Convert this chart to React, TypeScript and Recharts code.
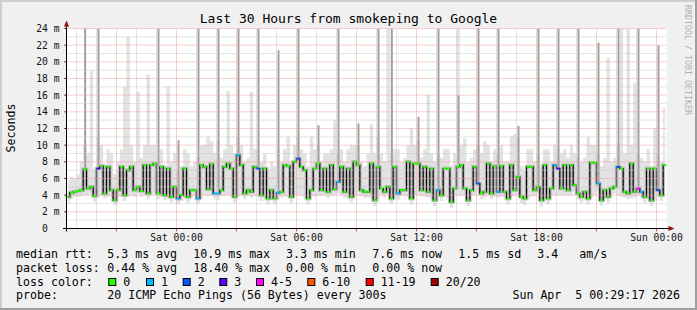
import React from 'react';
import { ComposedChart, Area, Bar, Line, XAxis, YAxis, ReferenceLine, CartesianGrid } from 'recharts';

// 10 minute slots, Fri 18:30 -> Sun 00:30, values in ms
const median = [
  3.8, 4.3, 4.4, 4.5, 4.6, 7.1, 4.8, 5.0, 3.9, 7.2,
  7.5, 4.2, 7.4, 4.6, 3.4, 4.6, 7.4, 4.0, 7.0, 7.4,
  4.6, 5.0, 4.5, 7.6, 4.2, 7.6, 7.8, 4.2, 7.4, 4.0,
  7.2, 3.8, 5.0, 3.6, 4.0, 7.2, 3.8, 4.6, 4.6, 3.6,
  7.6, 7.4, 4.7, 7.7, 4.2, 4.2, 4.6, 7.4, 7.8, 7.2,
  3.8, 8.8, 7.6, 4.2, 4.6, 4.4, 7.4, 7.2, 4.0, 7.2,
  3.6, 4.6, 3.6, 4.3, 4.4, 7.6, 7.5, 3.8, 8.0, 8.4,
  7.4, 7.0, 3.6, 4.6, 7.2, 7.8, 4.6, 7.2, 4.4, 7.6,
  4.7, 5.6, 7.4, 4.4, 7.2, 3.8, 8.0, 7.6, 4.6, 4.4,
  4.4, 7.8, 3.4, 7.4, 4.8, 4.4, 5.0, 3.6, 7.4, 4.2,
  4.6, 4.6, 8.0, 3.6, 7.8, 7.8, 4.6, 7.4, 4.4, 7.2,
  3.4, 4.6, 4.0, 7.2, 7.2, 3.2, 4.8, 7.4, 7.6, 4.8,
  3.4, 4.6, 7.4, 5.4, 4.2, 4.4, 7.8, 4.2, 7.5, 4.4,
  7.5, 4.4, 3.6, 7.6, 4.6, 6.2, 3.8, 3.6, 7.4, 7.4,
  4.6, 5.0, 3.4, 7.6, 3.6, 4.8, 7.6, 7.2, 4.8, 7.6,
  4.6, 7.6, 5.2, 4.2, 3.8, 4.4, 3.6, 7.9, 7.9, 5.4,
  3.4, 4.6, 3.8, 4.8, 5.0, 7.4, 7.2, 4.4, 4.2, 7.8,
  4.4, 4.8, 4.4, 3.8, 7.2, 3.4, 7.2, 4.6, 4.0, 7.6,
];

const smokeLow = [
  3.0, 3.6, 3.8, 3.8, 3.9, 4.0, 4.0, 4.2, 3.2, 3.8,
  4.0, 3.6, 3.8, 3.9, 2.8, 3.8, 3.8, 3.3, 3.8, 4.0,
  3.8, 4.2, 3.8, 4.0, 3.5, 4.0, 4.2, 3.5, 3.8, 3.4,
  3.6, 3.1, 4.2, 2.9, 3.3, 3.6, 3.1, 3.8, 3.9, 2.9,
  3.6, 4.0, 3.9, 4.0, 3.5, 3.4, 3.9, 4.0, 4.0, 3.8,
  3.1, 3.8, 4.0, 3.5, 3.9, 3.7, 3.9, 3.8, 3.3, 3.6,
  2.9, 3.8, 2.9, 3.5, 3.7, 3.8, 3.8, 3.1, 4.0, 4.0,
  4.0, 3.6, 2.9, 3.9, 3.8, 4.0, 3.9, 4.0, 3.7, 3.9,
  4.0, 4.2, 4.0, 3.7, 3.5, 3.1, 3.8, 4.0, 3.9, 3.7,
  3.7, 3.6, 2.7, 3.5, 4.0, 3.7, 4.2, 2.9, 3.6, 3.4,
  3.9, 3.9, 3.8, 2.9, 4.0, 4.0, 3.9, 3.8, 3.7, 3.5,
  2.7, 3.9, 3.3, 3.8, 3.5, 2.5, 4.0, 3.9, 4.0, 4.0,
  2.7, 3.9, 4.0, 4.5, 3.5, 3.7, 4.0, 3.5, 3.8, 3.7,
  3.8, 3.7, 2.9, 3.8, 3.9, 4.0, 3.0, 2.8, 3.5, 3.8,
  3.9, 4.2, 2.6, 3.5, 2.9, 4.0, 4.0, 4.0, 4.0, 4.0,
  3.9, 4.0, 4.4, 3.5, 3.1, 3.7, 2.9, 3.8, 4.0, 4.5,
  2.7, 3.9, 3.1, 4.0, 4.2, 4.0, 3.8, 3.7, 3.5, 3.6,
  3.7, 4.0, 3.7, 3.1, 3.5, 2.7, 3.4, 3.9, 3.3, 3.8,
];

const smokeHigh = [
  5.8, 6.2, 6.0, 6.5, 8.0, 10.0, 9.0, 19.0, 7.0, 11.0,
  10.0, 7.5, 9.5, 9.0, 6.5, 8.0, 9.5, 17.0, 23.0, 10.0,
  8.0, 16.4, 8.5, 10.0, 18.5, 10.0, 10.0, 8.0, 9.5, 7.5,
  17.0, 8.0, 9.0, 7.0, 7.5, 9.5, 9.0, 7.5, 8.0, 8.5,
  10.0, 10.0, 11.0, 10.5, 9.0, 10.5, 8.5, 9.5, 16.5, 10.0,
  9.0, 11.0, 10.0, 8.0, 8.5, 16.4, 9.5, 9.5, 8.0, 9.0,
  7.0, 8.0, 7.5, 9.5, 8.0, 9.5, 11.0, 8.0, 10.0, 11.0,
  9.5, 9.0, 7.5, 11.0, 9.5, 10.0, 8.0, 9.0, 9.0, 9.5,
  13.0, 9.0, 9.5, 8.0, 9.5, 10.0, 10.0, 10.0, 8.0, 7.5,
  9.0, 12.5, 9.0, 11.0, 9.0, 8.0, 24.0, 9.0, 9.5, 9.5,
  8.0, 8.5, 10.0, 12.0, 10.0, 10.5, 8.5, 9.5, 16.0, 9.0,
  8.0, 9.0, 8.5, 9.5, 9.5, 7.5, 9.0, 24.0, 10.0, 10.8,
  8.0, 8.5, 9.5, 10.0, 9.0, 10.5, 10.0, 8.0, 9.5, 9.0,
  10.0, 8.0, 8.0, 11.0, 11.3, 11.0, 7.5, 7.0, 9.5, 9.5,
  8.0, 9.0, 7.5, 9.5, 9.5, 8.0, 10.0, 9.5, 9.0, 9.5,
  8.5, 10.0, 9.0, 8.5, 8.0, 8.5, 11.0, 10.0, 10.0, 9.0,
  7.5, 8.5, 20.5, 8.0, 8.5, 10.0, 24.0, 9.0, 24.0, 10.0,
  17.5, 9.0, 8.5, 8.0, 9.5, 7.5, 12.0, 9.0, 8.0, 14.5,
];

// loss bucket per slot (index into lossLabels)
const lossBucket = [
  0, 0, 0, 0, 0, 0, 0, 0, 0, 3,
  0, 0, 0, 0, 0, 0, 0, 0, 0, 0,
  0, 0, 0, 0, 0, 0, 0, 0, 0, 0,
  0, 0, 0, 1, 0, 0, 0, 0, 0, 1,
  0, 0, 0, 0, 1, 1, 0, 0, 0, 0,
  0, 1, 0, 0, 0, 0, 0, 2, 0, 0,
  0, 0, 0, 1, 0, 0, 0, 0, 0, 2,
  0, 0, 0, 0, 0, 0, 0, 0, 0, 0,
  0, 1, 0, 0, 0, 0, 0, 0, 0, 0,
  0, 0, 0, 0, 0, 0, 0, 0, 0, 1,
  0, 0, 0, 0, 0, 0, 0, 0, 0, 0,
  0, 1, 0, 0, 0, 0, 0, 0, 0, 0,
  0, 0, 0, 2, 0, 0, 0, 0, 0, 1,
  0, 0, 0, 0, 0, 0, 0, 0, 0, 0,
  0, 0, 0, 0, 0, 0, 1, 3, 0, 0,
  0, 0, 0, 0, 0, 0, 0, 0, 0, 1,
  0, 0, 0, 0, 0, 2, 0, 0, 0, 0,
  0, 4, 1, 0, 0, 0, 0, 2, 0, 0,
];

const spikeSlots = [5, 9, 27, 33, 39, 45, 51, 57, 63, 69, 75, 81, 87, 93, 97, 105, 111, 117, 123, 129, 135, 141, 147, 153, 159, 165, 171, 177];
const spikeTops = [25, 25, 25, 10.6, 25, 25, 25, 25, 21.4, 25, 12.4, 25, 12.6, 25, 25, 13.4, 25, 16, 25, 25, 12.3, 25, 25, 25, 22.3, 25, 25, 22];

// x axis in hours since Fri 18:00
const xTicks = [6, 12, 18, 24, 30];
const xTickLabels = ['Sat 00:00', 'Sat 06:00', 'Sat 12:00', 'Sat 18:00', 'Sun 00:00'];
const yTicks = [0, 2, 4, 6, 8, 10, 12, 14, 16, 18, 20, 22, 24];
const hourLines = Array.from({ length: 30 }, (_, i) => i + 1);
const minorHours = hourLines.filter(h => h % 3 !== 0);
const majorHours = hourLines.filter(h => h % 3 === 0);
const minorY = [1, 3, 5, 7, 9, 11, 13, 15, 17, 19, 21, 23];
const majorY = [2, 4, 6, 8, 10, 12, 14, 16, 18, 20, 22, 24];

const lossLabels = ['0', '1', '2', '3', '4-5', '6-10', '11-19', '20/20'];
const lossColors = ['#26ff00', '#00b8ff', '#0059ff', '#5e00ff', '#ff00ff', '#ff5500', '#ff0000', '#a10000'];

const data = median.map((m, j) => {
  const s = spikeSlots.indexOf(j);
  return {
    t: 0.5 + (j + 0.5) / 6,
    median: m,
    smoke: [smokeLow[j], smokeHigh[j]],
    spike: s >= 0 ? [m, spikeTops[s]] : null,
    loss: lossBucket[j],
  };
});

const MONO = '"DejaVu Sans Mono", monospace';
const MINOR = '#cacaca';
const MAJOR = '#f29c9c';

const MedianDot = (props: any) => {
  const { cx, cy, payload, index } = props;
  if (cx == null || cy == null) return <g key={index} />;
  return <rect key={index} x={cx - 1.67} y={cy - 1} width={3.33} height={2} fill={lossColors[payload.loss]} />;
};

const legendText: Array<[number, number, string]> = [
  [16, 258.3, 'median rtt:'], [107.3, 258.3, '5.3 ms avg'], [193.3, 258.3, '10.9 ms max'],
  [286, 258.3, '3.3 ms min'], [372.3, 258.3, '7.6 ms now'], [458.3, 258.3, '1.5 ms sd'],
  [537.3, 258.3, '3.4'], [579.3, 258.3, 'am/s'],
  [16, 272, 'packet loss:'], [107.3, 272, '0.44 % avg'], [193.3, 272, '18.40 % max'],
  [286, 272, '0.00 % min'], [372.3, 272, '0.00 % now'],
  [16, 285.7, 'loss color:'],
  [16, 299.4, 'probe:'], [107.3, 299.4, '20 ICMP Echo Pings (56 Bytes) every 300s'],
];
const lossBoxX = [108.3, 146, 182.7, 219.3, 256, 307.3, 365.7, 430.7];

export default function App() {
  return (
    <div style={{ position: 'absolute', left: 0, top: 0, width: 697, height: 310, background: '#f0f0f0' }}>
      <ComposedChart
        width={697}
        height={310}
        data={data}
        margin={{ top: 28.5, right: 30.5, bottom: 61.5, left: 6.5 }}
        style={{ position: 'absolute', left: 0, top: 0 }}
      >
        <CartesianGrid horizontal={false} vertical={false} fill="#ffffff" />
        <XAxis
          dataKey="t"
          type="number"
          domain={[0.5, 30.5]}
          ticks={xTicks}
          interval={0}
          tickFormatter={(v: number) => xTickLabels[xTicks.indexOf(v)] ?? ''}
          axisLine={false}
          tickLine={false}
          tickSize={2}
          tickMargin={3.3}
          height={20}
          tick={{ fill: '#111', fontSize: 9.7, fontFamily: MONO }}
        />
        <YAxis
          type="number"
          domain={[0, 24]}
          ticks={yTicks}
          interval={0}
          allowDataOverflow
          width={60}
          axisLine={false}
          tickLine={{ stroke: '#000' }}
          tickSize={2}
          tickMargin={5}
          tickFormatter={(v: number) => (v === 0 ? '0\u00a0\u00a0' : `${v} m`)}
          tick={{ fill: '#111', fontSize: 9.7, fontFamily: MONO }}
        />
        <Area dataKey="smoke" type="step" fill="#e2e2e2" fillOpacity={1} stroke="none" dot={false} activeDot={false} isAnimationActive={false} />
        <Bar dataKey="spike" barSize={2} fill="#9f9f9f" isAnimationActive={false} />
        <Line dataKey="median" type="step" stroke="#bcbcbc" strokeWidth={3.5} dot={false} activeDot={false} isAnimationActive={false} />
        <Line dataKey="median" type="step" stroke="#000000" strokeWidth={1.2} dot={MedianDot} activeDot={false} isAnimationActive={false} />
        {minorY.map(v => (
          <ReferenceLine key={`my${v}`} y={v} stroke={MINOR} strokeDasharray="1 1" />
        ))}
        {minorHours.map(h => (
          <ReferenceLine key={`mx${h}`} x={h} stroke={MINOR} strokeDasharray="1 1" />
        ))}
        {majorY.map(v => (
          <ReferenceLine key={`My${v}`} y={v} stroke={MAJOR} strokeDasharray="1 1" />
        ))}
        {majorHours.map(h => (
          <ReferenceLine key={`Mx${h}`} x={h} stroke={MAJOR} strokeDasharray="1 1" />
        ))}
        {majorHours.map(h => (
          <ReferenceLine key={`tk${h}`} segment={[{ x: h, y: -0.35 }, { x: h, y: 0 }]} stroke="#e05050" ifOverflow="visible" />
        ))}
      </ComposedChart>
      <svg width={697} height={310} style={{ position: 'absolute', left: 0, top: 0, pointerEvents: 'none' }}>
        {/* frame */}
        <line x1={0} y1={1} x2={697} y2={1} stroke="#cfcfcf" strokeWidth={2} />
        <line x1={1} y1={0} x2={1} y2={310} stroke="#cfcfcf" strokeWidth={2} />
        <line x1={0} y1={309} x2={697} y2={309} stroke="#9e9e9e" strokeWidth={2} />
        <line x1={696} y1={0} x2={696} y2={310} stroke="#9e9e9e" strokeWidth={2} />
        {/* axes */}
        <line x1={63} y1={228.5} x2={669} y2={228.5} stroke="#000" />
        <line x1={66.5} y1={231.5} x2={66.5} y2={26} stroke="#000" />
        <polygon points="66.5,20.5 64,26.5 69,26.5" fill="#8f1010" />
        <polygon points="674.5,228.5 668.5,226 668.5,231" fill="#8f1010" />
        {/* texts */}
        <text x={348.5} y={22.5} textAnchor="middle" fontFamily={MONO} fontSize={13} fill="#000">
          Last 30 Hours from smokeping to Google
        </text>
        <text x={14.5} y={128} textAnchor="middle" fontFamily={MONO} fontSize={11.6} fill="#000" transform="rotate(-90 14.5 128)">
          Seconds
        </text>
        <text x={685} y={5} fontFamily={MONO} fontSize={8.3} fill="#b0b0b0" transform="rotate(90 685 5)">
          RRDTOOL / TOBI OETIKER
        </text>
        {legendText.map(([x, y, s], i) => (
          <text key={i} x={x} y={y} fontFamily={MONO} fontSize={11.6} fill="#000" style={{ whiteSpace: 'pre' }}>
            {s}
          </text>
        ))}
        {lossLabels.map((l, i) => (
          <g key={l}>
            <rect x={lossBoxX[i] + 0.5} y={278.5} width={7} height={7} fill={lossColors[i]} stroke="#000" />
            <text x={lossBoxX[i] + 15} y={285.7} fontFamily={MONO} fontSize={11.6} fill="#000">
              {l}
            </text>
          </g>
        ))}
        <text x={680} y={299.4} textAnchor="end" fontFamily={MONO} fontSize={11.6} fill="#000" style={{ whiteSpace: 'pre' }}>
          {'Sun Apr  5 00:29:17 2026'}
        </text>
      </svg>
    </div>
  );
}
